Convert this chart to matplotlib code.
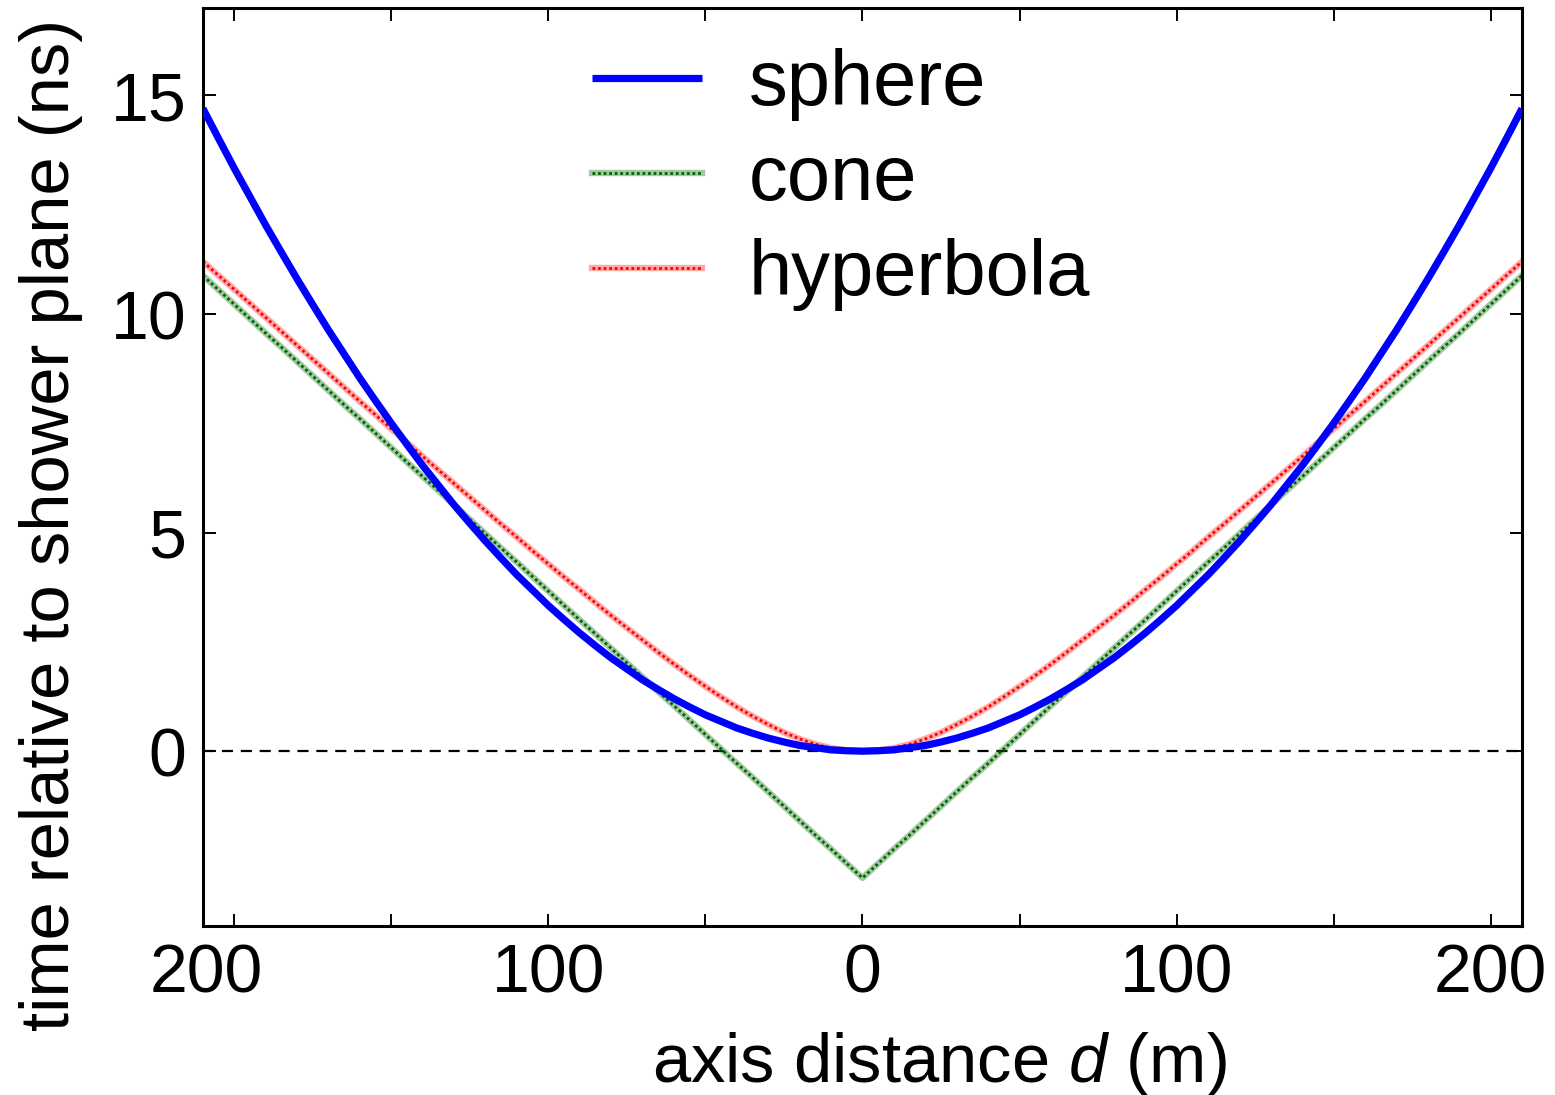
import matplotlib
matplotlib.use("Agg")
import matplotlib.pyplot as plt
from matplotlib.legend_handler import HandlerTuple
import matplotlib.transforms as mtransforms

plt.rcParams['font.family'] = ['Liberation Sans', 'DejaVu Sans']
plt.rcParams['mathtext.fontset'] = 'custom'
plt.rcParams['mathtext.rm'] = 'Liberation Sans'
plt.rcParams['mathtext.it'] = 'Liberation Sans:italic'

# axis distance d (m)
d = [-210, -205, -200, -195, -190, -185, -180, -175, -170, -165, -160, -155, -150, -145,
     -140, -135, -130, -125, -120, -115, -110, -105, -100, -95, -90, -85, -80, -75, -70,
     -65, -60, -55, -50, -45, -40, -35, -30, -25, -20, -15, -10, -5,
     0, 5, 10, 15, 20, 25, 30, 35, 40, 45, 50, 55, 60, 65, 70, 75, 80, 85, 90, 95, 100,
     105, 110, 115, 120, 125, 130, 135, 140, 145, 150, 155, 160, 165, 170, 175, 180, 185,
     190, 195, 200, 205, 210]

# time relative to shower plane (ns)
sphere = [14.70, 14.01, 13.33, 12.68, 12.03, 11.41, 10.80, 10.21, 9.63, 9.08, 8.53, 8.01,
          7.50, 7.01, 6.53, 6.08, 5.63, 5.21, 4.80, 4.41, 4.03, 3.68, 3.33, 3.01, 2.70, 2.41,
          2.13, 1.88, 1.63, 1.41, 1.20, 1.01, 0.83, 0.68, 0.53, 0.41, 0.30, 0.21, 0.13, 0.08,
          0.03, 0.01,
          0.00, 0.01, 0.03, 0.08, 0.13, 0.21, 0.30, 0.41, 0.53, 0.68, 0.83, 1.01, 1.20, 1.41,
          1.63, 1.88, 2.13, 2.41, 2.70, 3.01, 3.33, 3.68, 4.03, 4.41, 4.80, 5.21, 5.63, 6.08,
          6.53, 7.01, 7.50, 8.01, 8.53, 9.08, 9.63, 10.21, 10.80, 11.41, 12.03, 12.68, 13.33,
          14.01, 14.70]
cone = [10.88, 10.55, 10.22, 9.89, 9.56, 9.24, 8.91, 8.58, 8.25, 7.92, 7.60, 7.27, 6.94,
        6.61, 6.28, 5.96, 5.63, 5.30, 4.97, 4.64, 4.32, 3.99, 3.66, 3.33, 3.00, 2.68, 2.35,
        2.02, 1.69, 1.36, 1.04, 0.71, 0.38, 0.05, -0.28, -0.60, -0.93, -1.26, -1.59, -1.92,
        -2.24, -2.57,
        -2.90, -2.57, -2.24, -1.92, -1.59, -1.26, -0.93, -0.60, -0.28, 0.05, 0.38, 0.71, 1.04,
        1.36, 1.69, 2.02, 2.35, 2.68, 3.00, 3.33, 3.66, 3.99, 4.32, 4.64, 4.97, 5.30, 5.63,
        5.96, 6.28, 6.61, 6.94, 7.27, 7.60, 7.92, 8.25, 8.58, 8.91, 9.24, 9.56, 9.89, 10.22,
        10.55, 10.88]
hyperbola = [11.20, 10.88, 10.56, 10.24, 9.92, 9.60, 9.28, 8.96, 8.64, 8.32, 8.00, 7.69,
             7.37, 7.06, 6.74, 6.43, 6.12, 5.81, 5.50, 5.19, 4.89, 4.58, 4.28, 3.98, 3.69,
             3.39, 3.10, 2.82, 2.54, 2.26, 1.99, 1.73, 1.48, 1.24, 1.01, 0.80, 0.61, 0.43,
             0.28, 0.16, 0.07, 0.02,
             0.00, 0.02, 0.07, 0.16, 0.28, 0.43, 0.61, 0.80, 1.01, 1.24, 1.48, 1.73, 1.99,
             2.26, 2.54, 2.82, 3.10, 3.39, 3.69, 3.98, 4.28, 4.58, 4.89, 5.19, 5.50, 5.81,
             6.12, 6.43, 6.74, 7.06, 7.37, 7.69, 8.00, 8.32, 8.64, 8.96, 9.28, 9.60, 9.92,
             10.24, 10.56, 10.88, 11.20]

series_labels = ['sphere', 'cone', 'hyperbola']
xtick_pos = [-200, -100, 0, 100, 200]
xtick_labels = ['200', '100', '0', '100', '200']
xminor_pos = [-150, -50, 50, 150]
ytick_pos = [0, 5, 10, 15]
ytick_labels = ['0', '5', '10', '15']

FS_TICK = 49
FS_LABEL = 49.5
FS_LEG = 56

fig = plt.figure(figsize=(15.55, 10.95), dpi=100)
ax = fig.add_axes([0.1305, 0.1543, 0.9788 - 0.1305, 0.9927 - 0.1543])

ax.axhline(0, color='black', lw=1.6, ls=(0, (5, 3.5)), zorder=1)

h_s, = ax.plot(d, sphere, color='#0000ff', lw=5.2, solid_capstyle='butt',
               solid_joinstyle='round', zorder=3)
c_bg, = ax.plot(d, cone, color='#1a7a1a', lw=4.6, alpha=0.4, zorder=2)
c_fg, = ax.plot(d, cone, color='#006400', lw=2.0, ls=(0, (1, 1)), zorder=2)
r_bg, = ax.plot(d, hyperbola, color='#ff2a2a', lw=4.6, alpha=0.4, zorder=2)
r_fg, = ax.plot(d, hyperbola, color='#ff0000', lw=2.0, ls=(0, (1, 1)), zorder=2)

ax.set_xlim(-210, 210)
ax.set_ylim(-4, 17)
ax.set_xticks(xtick_pos)
ax.set_xticklabels(xtick_labels)
ax.set_xticks(xminor_pos, minor=True)
ax.set_yticks(ytick_pos)
ax.set_yticklabels(ytick_labels)

ax.tick_params(which='both', direction='in', top=True, right=True, length=9, width=1.4,
               labelsize=FS_TICK, pad=12)
for s in ax.spines.values():
    s.set_linewidth(2.2)

# left-most label sits a bit left of its tick in the reference
lbl = ax.get_xticklabels()[0]
lbl.set_transform(lbl.get_transform() + mtransforms.ScaledTranslation(-0.28, 0, fig.dpi_scale_trans))

ax.set_ylabel('time relative to shower plane (ns)', fontsize=FS_LABEL)
ax.yaxis.set_label_coords(-0.091, 0.437)
ax.set_xlabel('axis distance $d$ (m)', fontsize=FS_LABEL)
ax.xaxis.set_label_coords(0.558, -0.113)

leg = ax.legend([h_s, (c_bg, c_fg), (r_bg, r_fg)], series_labels,
                handler_map={tuple: HandlerTuple(ndivide=1, pad=0)},
                loc='upper left', bbox_to_anchor=(0.295, 0.956), frameon=False,
                borderpad=0, borderaxespad=0,
                fontsize=FS_LEG, handlelength=1.41, handletextpad=0.6, labelspacing=0.28)

fig.savefig('out.png', dpi=100)
